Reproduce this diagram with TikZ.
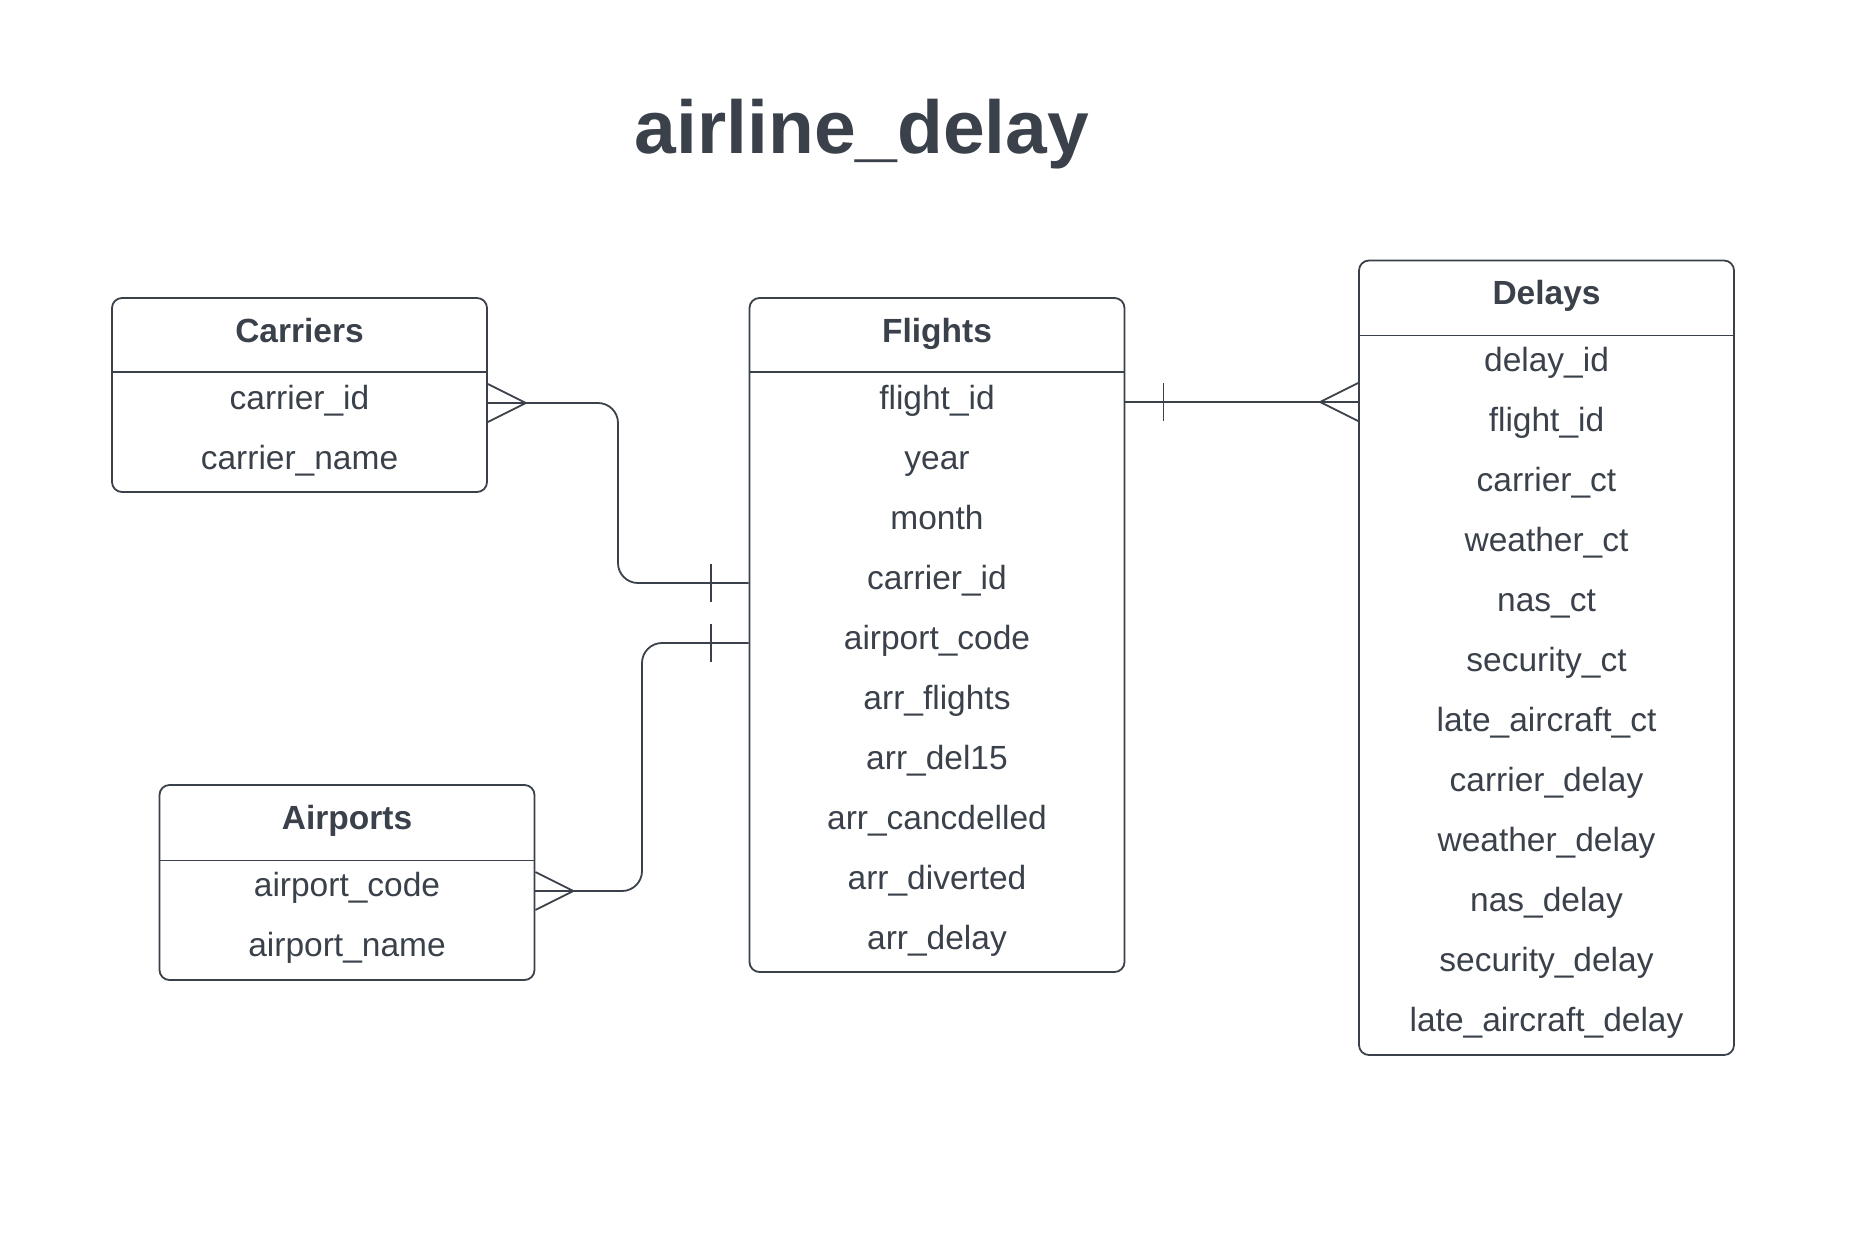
\documentclass[tikz,border=0pt]{standalone}
\usepackage{fontspec}
\setmainfont{Liberation Sans}
\usetikzlibrary{calc}
\definecolor{ink}{HTML}{3A414A}
\begin{document}
\begin{tikzpicture}[x=1pt,y=-1pt, line join=round,
  entity/.style={draw=ink, line width=1.8pt, rounded corners=10pt, inner sep=0pt, minimum width=375pt},
  divline/.style={draw=ink, line width=1.8pt},
  thindiv/.style={draw=ink, line width=1.1pt},
  headtxt/.style={font=\fontsize{33.5}{40}\selectfont\bfseries, text=ink, anchor=base, inner sep=0pt},
  rowtxt/.style={font=\fontsize{33.5}{40}\selectfont, text=ink, anchor=base, inner sep=0pt},
  conn/.style={draw=ink, line width=1.8pt},
  thinconn/.style={draw=ink, line width=1.1pt},
]
\useasboundingbox (0,0) rectangle (1854,1243);
\node[font=\fontsize{75}{90}\selectfont\bfseries, text=ink, anchor=base, inner sep=0pt] (title) at (862,153) {airline\_delay};

% entity boxes
\node[entity, minimum height=194pt] (carriers) at (299.5,395) {};
\node[entity, minimum height=674pt] (flights) at (937,635) {};
\node[entity, minimum height=794.5pt] (delays) at (1546.5,657.75) {};
\node[entity, minimum height=195pt] (airports) at (347,882.5) {};

% helper heights
\path (0,372) coordinate (yc) (0,372) coordinate (yf) (0,335.5) coordinate (yd) (0,860.5) coordinate (ya);
\draw[divline] (carriers.west |- yc) -- (carriers.east |- yc);
\draw[divline] (flights.west |- yf) -- (flights.east |- yf);
\draw[thindiv] (delays.west |- yd) -- (delays.east |- yd);
\draw[thindiv] (airports.west |- ya) -- (airports.east |- ya);

% headers
\node[headtxt] (ch) at (299.5,342) {Carriers};
\node[headtxt] (fh) at (937,342) {Flights};
\node[headtxt] (dh) at (1546.5,304) {Delays};
\node[headtxt] (ah) at (347,829) {Airports};

% rows
\node[rowtxt] (c1) at (299.5,409) {carrier\_id};
\node[rowtxt] (c2) at (299.5,469) {carrier\_name};
\node[rowtxt] (a1) at (347,896) {airport\_code};
\node[rowtxt] (a2) at (347,956) {airport\_name};
\foreach \t [count=\i] in {flight\_id, year, month, carrier\_id, airport\_code, arr\_flights, arr\_del15, arr\_cancdelled, arr\_diverted, arr\_delay}
  \node[rowtxt] (f\i) at (937,{409+60*(\i-1)}) {\t};
\foreach \t [count=\i] in {delay\_id, flight\_id, carrier\_ct, weather\_ct, nas\_ct, security\_ct, late\_aircraft\_ct, carrier\_delay, weather\_delay, nas\_delay, security\_delay, late\_aircraft\_delay}
  \node[rowtxt] (d\i) at (1546.5,{371+60*(\i-1)}) {\t};

% connector heights
\path (0,403) coordinate (h1) (0,583) coordinate (h2) (0,402) coordinate (h3) (0,891) coordinate (h4) (0,643) coordinate (h5);

% Carriers -- Flights
\draw[conn] (carriers.east |- h1) -- ++(38,0);
\draw[conn] ($(carriers.east |- h1)+(0,-19)$) -- ++(38,19) -- ++(-38,19);
\draw[conn, rounded corners=20pt] ($(carriers.east |- h1)+(38,0)$) -- (618,403) -- (618,583) -- (flights.west |- h2);
\draw[conn] ($(flights.west |- h2)+(-38,-19)$) -- ++(0,38);

% Flights -- Delays
\draw[conn] (flights.east |- h3) -- (delays.west |- h3);
\draw[conn] ($(flights.east |- h3)+(38,-19)$) -- ++(0,38);
\draw[conn] ($(delays.west |- h3)+(0,-19)$) -- ++(-38,19) -- ++(38,19);

% Airports -- Flights
\draw[thinconn] (airports.east |- h4) -- ++(38,0);
\draw[conn] ($(airports.east |- h4)+(0,-19)$) -- ++(38,19) -- ++(-38,19);
\draw[conn, rounded corners=20pt] ($(airports.east |- h4)+(38,0)$) -- (642,891) -- (642,643) -- (flights.west |- h5);
\draw[conn] ($(flights.west |- h5)+(-38,-19)$) -- ++(0,38);
\end{tikzpicture}
\end{document}
